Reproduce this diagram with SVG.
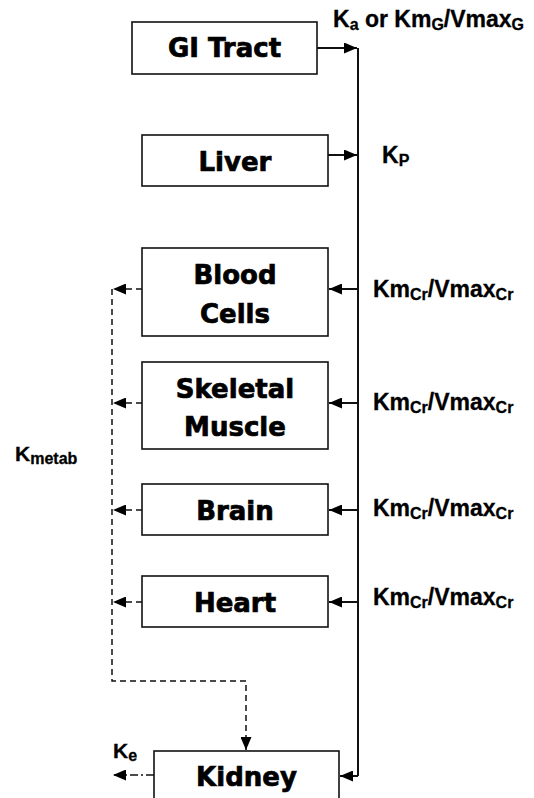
<svg xmlns="http://www.w3.org/2000/svg" width="534" height="798" viewBox="0 0 534 798">
<style>
.box{fill:#fff;stroke:#111;stroke-width:1.6}
.bl{font-family:"DejaVu Sans",sans-serif;font-weight:bold;font-size:26px;fill:#000;stroke:#000;stroke-width:0.7;text-anchor:middle}
.lab{font-family:"Liberation Sans",Arial,sans-serif;font-weight:bold;font-size:23px;fill:#000;stroke:#000;stroke-width:0.3}
.sub{font-size:16px}
.solid{fill:none;stroke:#111;stroke-width:2}
.dash{fill:none;stroke:#111;stroke-width:1.5;stroke-dasharray:6 4}
.dashdot{fill:none;stroke:#111;stroke-width:1.5;stroke-dasharray:8 3 2 3}
</style>
<defs>
<marker id="ah" viewBox="0 0 13 11" refX="13" refY="5.5" markerWidth="13" markerHeight="11" markerUnits="userSpaceOnUse" orient="auto">
<path d="M0,0 L13,5.5 L0,11 Z" fill="#000"/>
</marker>
</defs>
<rect width="534" height="798" fill="#fff"/>
<g id="connectors">
<path class="solid" d="M358,48 V776"/>
<path class="solid" d="M317,48 H357" marker-end="url(#ah)"/>
<path class="solid" d="M328,155 H357" marker-end="url(#ah)"/>
<path class="solid" d="M358,289 H329" marker-end="url(#ah)"/>
<path class="solid" d="M358,403 H329" marker-end="url(#ah)"/>
<path class="solid" d="M358,510 H329" marker-end="url(#ah)"/>
<path class="solid" d="M358,602 H329" marker-end="url(#ah)"/>
<path class="solid" d="M358,776 H340" marker-end="url(#ah)"/>
<path class="dash" d="M142,289 H113" marker-end="url(#ah)"/>
<path class="dash" d="M142,403 H113" marker-end="url(#ah)"/>
<path class="dash" d="M142,510 H113" marker-end="url(#ah)"/>
<path class="dash" d="M142,602 H113" marker-end="url(#ah)"/>
<path class="dash" d="M112,289 V681 H246 V750" marker-end="url(#ah)"/>
<path class="dashdot" d="M154,775 H113" marker-end="url(#ah)"/>
</g>
<g id="gi">
<rect class="box" x="132" y="22" width="185" height="52"/>
<text class="bl" x="224.5" y="57">GI Tract</text>
</g>
<g id="liver">
<rect class="box" x="142" y="135" width="186" height="51"/>
<text class="bl" x="235" y="171">Liver</text>
</g>
<g id="blood">
<rect class="box" x="142" y="248" width="186" height="88"/>
<text class="bl" x="235" y="284">Blood</text>
<text class="bl" x="235" y="323">Cells</text>
</g>
<g id="muscle">
<rect class="box" x="142" y="362" width="186" height="87"/>
<text class="bl" x="235" y="398">Skeletal</text>
<text class="bl" x="235" y="436">Muscle</text>
</g>
<g id="brain">
<rect class="box" x="142" y="484" width="186" height="51"/>
<text class="bl" x="235" y="520">Brain</text>
</g>
<g id="heart">
<rect class="box" x="142" y="576" width="186" height="51"/>
<text class="bl" x="235" y="612">Heart</text>
</g>
<g id="kidney">
<rect class="box" x="154" y="751" width="185" height="60"/>
<text class="bl" x="246.5" y="786">Kidney</text>
</g>
<g id="labels">
<text class="lab" x="333" y="27">K<tspan class="sub" dy="3">a</tspan><tspan dy="-3"> or Km</tspan><tspan class="sub" dy="3">G</tspan><tspan dy="-3">/Vmax</tspan><tspan class="sub" dy="3">G</tspan></text>
<text class="lab" x="382" y="163">K<tspan class="sub" dy="3">P</tspan></text>
<text class="lab" x="373" y="297">Km<tspan class="sub" dy="3">Cr</tspan><tspan dy="-3">/Vmax</tspan><tspan class="sub" dy="3">Cr</tspan></text>
<text class="lab" x="373" y="410">Km<tspan class="sub" dy="3">Cr</tspan><tspan dy="-3">/Vmax</tspan><tspan class="sub" dy="3">Cr</tspan></text>
<text class="lab" x="373" y="516">Km<tspan class="sub" dy="3">Cr</tspan><tspan dy="-3">/Vmax</tspan><tspan class="sub" dy="3">Cr</tspan></text>
<text class="lab" x="373" y="605">Km<tspan class="sub" dy="3">Cr</tspan><tspan dy="-3">/Vmax</tspan><tspan class="sub" dy="3">Cr</tspan></text>
<text class="lab" x="15" y="461" style="font-size:21px">K<tspan class="sub" dy="3">metab</tspan></text>
<text class="lab" x="113" y="758" style="font-size:21px">K<tspan class="sub" dy="3">e</tspan></text>
</g>
</svg>
